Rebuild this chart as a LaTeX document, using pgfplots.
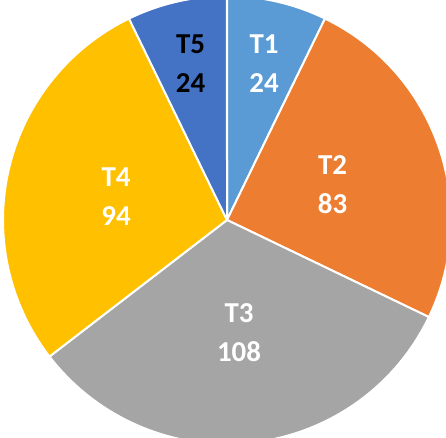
\documentclass[border=0pt]{standalone}
\usepackage{pgfplots}
\pgfplotsset{compat=1.18}
\usepackage{fontspec}
\setmainfont{Carlito}
\definecolor{cA}{HTML}{5B9BD5}
\definecolor{cB}{HTML}{ED7D31}
\definecolor{cC}{HTML}{A5A5A5}
\definecolor{cD}{HTML}{FFC000}
\definecolor{cE}{HTML}{4472C4}
% data values
\def\vA{24}\def\vB{83}\def\vC{108}\def\vD{94}\def\vE{24}
\def\R{224}
\pgfmathsetmacro\tot{\vA+\vB+\vC+\vD+\vE}
\pgfmathsetmacro\k{360/\tot}
\pgfmathsetmacro\aO{90}
\pgfmathsetmacro\aA{\aO-\k*\vA}
\pgfmathsetmacro\aB{\aA-\k*\vB}
\pgfmathsetmacro\aC{\aB-\k*\vC}
\pgfmathsetmacro\aD{\aC-\k*\vD}
\pgfmathsetmacro\aE{\aD-\k*\vE}
\pgfmathsetmacro\xO{\R*cos(\aO)}\pgfmathsetmacro\yO{\R*sin(\aO)}
\pgfmathsetmacro\xA{\R*cos(\aA)}\pgfmathsetmacro\yA{\R*sin(\aA)}
\pgfmathsetmacro\xB{\R*cos(\aB)}\pgfmathsetmacro\yB{\R*sin(\aB)}
\pgfmathsetmacro\xC{\R*cos(\aC)}\pgfmathsetmacro\yC{\R*sin(\aC)}
\pgfmathsetmacro\xD{\R*cos(\aD)}\pgfmathsetmacro\yD{\R*sin(\aD)}
\begin{document}
\begin{tikzpicture}
\begin{axis}[
  scale only axis, width=446bp, height=438bp,
  xmin=-227, xmax=219, ymin=-218, ymax=220,
  axis lines=none, clip=true,
  every axis plot/.append style={draw=white, line width=2bp, line join=round},
]
\addplot[fill=cA] coordinates {(0,0) (\xO,\yO)} arc[start angle=\aO, end angle=\aA, radius=\R bp] -- cycle;
\addplot[fill=cB] coordinates {(0,0) (\xA,\yA)} arc[start angle=\aA, end angle=\aB, radius=\R bp] -- cycle;
\addplot[fill=cC] coordinates {(0,0) (\xB,\yB)} arc[start angle=\aB, end angle=\aC, radius=\R bp] -- cycle;
\addplot[fill=cD] coordinates {(0,0) (\xC,\yC)} arc[start angle=\aC, end angle=\aD, radius=\R bp] -- cycle;
\addplot[fill=cE] coordinates {(0,0) (\xD,\yD)} arc[start angle=\aD, end angle=\aE, radius=\R bp] -- cycle;
\tikzset{lab/.style={align=center, font=\fontsize{29}{39}\selectfont\bfseries, text=white, inner sep=0pt}}
\node[lab] at (axis cs:37,156) {T1\\24};
\node[lab] at (axis cs:105.5,35) {T2\\83};
\node[lab] at (axis cs:12,-113) {T3\\108};
\node[lab] at (axis cs:-111,23) {T4\\94};
\node[lab, text=black] at (axis cs:-36.5,156) {T5\\24};
\end{axis}
\end{tikzpicture}
\end{document}
